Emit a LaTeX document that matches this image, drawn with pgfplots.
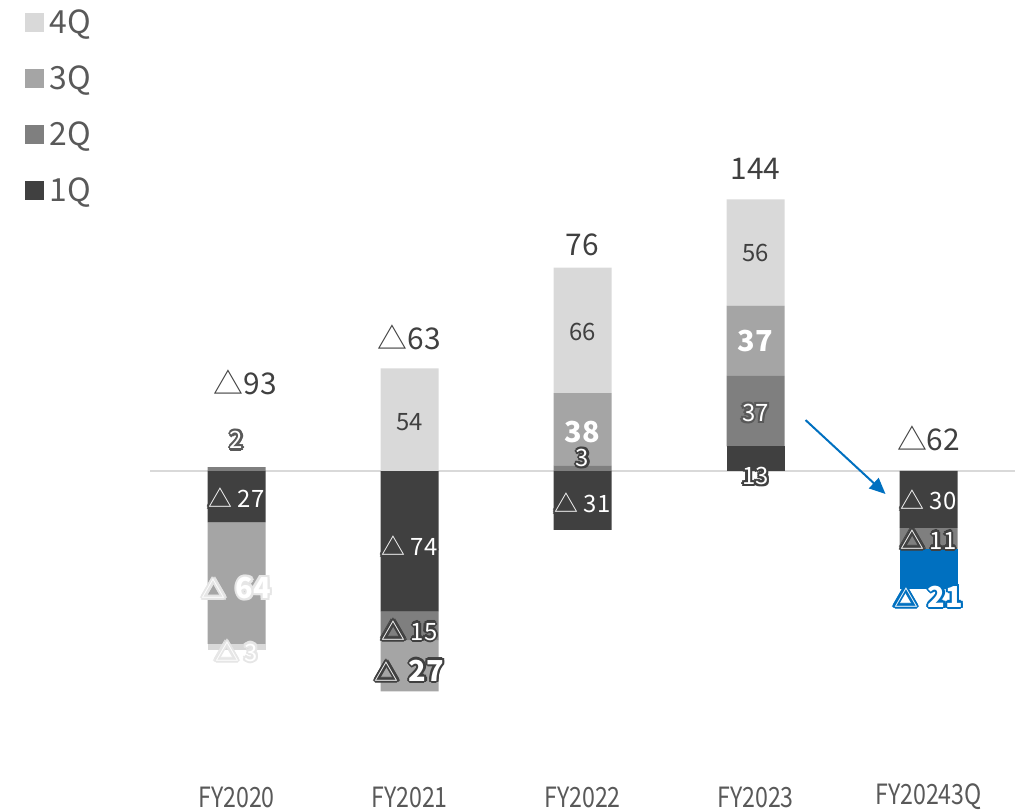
\documentclass[border=0pt]{standalone}
\usepackage{fontspec}
\setmainfont{Noto Sans CJK JP}
\usepackage{pgfplots}
\pgfplotsset{compat=1.18}
\usetikzlibrary{arrows.meta}
\definecolor{q1}{HTML}{404040}
\definecolor{q2}{HTML}{7F7F7F}
\definecolor{q3}{HTML}{A5A5A5}
\definecolor{q4}{HTML}{D9D9D9}
\definecolor{blu}{HTML}{0070C0}
\definecolor{txt}{HTML}{404040}
\definecolor{lgt}{HTML}{595959}
\definecolor{halo}{HTML}{E6E6E6}
\newcommand\lblfont{\fontsize{24}{26}\selectfont}
\newcommand\totfont{\fontsize{30}{33}\selectfont}
\newcommand\bb[1]{{\fontsize{29}{30}\selectfont\bfseries #1}}
% one glow copy: color, dx, dy, x, y, text
\newcommand\gn[6]{\node[text=#1,xshift=#2bp,yshift=#3bp,font=\lblfont] at (axis cs:#4,#5){#6};}
\newcommand\glow[4]{%
\gn{#1}{2.4}{0}{#2}{#3}{#4}\gn{#1}{1.7}{1.7}{#2}{#3}{#4}%
\gn{#1}{0}{2.4}{#2}{#3}{#4}\gn{#1}{-1.7}{1.7}{#2}{#3}{#4}%
\gn{#1}{-2.4}{0}{#2}{#3}{#4}\gn{#1}{-1.7}{-1.7}{#2}{#3}{#4}%
\gn{#1}{0}{-2.4}{#2}{#3}{#4}\gn{#1}{1.7}{-1.7}{#2}{#3}{#4}%
\gn{#1}{1.3}{0}{#2}{#3}{#4}\gn{#1}{1.1}{0.65}{#2}{#3}{#4}%
\gn{#1}{0.65}{1.1}{#2}{#3}{#4}\gn{#1}{0}{1.3}{#2}{#3}{#4}%
\gn{#1}{-0.65}{1.1}{#2}{#3}{#4}\gn{#1}{-1.1}{0.65}{#2}{#3}{#4}%
\gn{#1}{-1.3}{0}{#2}{#3}{#4}\gn{#1}{-1.1}{-0.65}{#2}{#3}{#4}%
\gn{#1}{-0.65}{-1.1}{#2}{#3}{#4}\gn{#1}{0}{-1.3}{#2}{#3}{#4}%
\gn{#1}{0.65}{-1.1}{#2}{#3}{#4}\gn{#1}{1.1}{-0.65}{#2}{#3}{#4}%
\node[text=white,font=\lblfont] at (axis cs:#2,#3){#4};}
\newcommand\plainlbl[4]{\node[text=#1,font=\lblfont] at (axis cs:#2,#3){#4};}
\newcommand\cat[2]{\node[text=lgt,font=\fontsize{25}{26}\selectfont] at (axis cs:#1,-171.6) {\scalebox{0.93}[1.12]{#2}};}
\pgfplotsset{base/.style={width=1023bp,height=812bp,scale only axis,
  xmin=-1.367,xmax=4.546,ymin=-179.5,ymax=247.9,hide axis,clip=false},
  bars/.style={ybar stacked,bar width=58bp,every axis plot/.append style={draw=none}}}
\begin{document}
\begin{tikzpicture}
\path[use as bounding box] (0,0) rectangle (1023bp,812bp);
% zero line
\begin{axis}[base]
\addplot[q4,line width=1.5bp] coordinates {(-0.5,0)(4.5,0)};
\end{axis}
% negative parts
\begin{axis}[base,bars]
\addplot[fill=q1] coordinates {(0,-27)(1,-74)(2,-31)(3,0)(4,-30)};
\addplot[fill=q2] coordinates {(0,0)(1,-15)(2,0)(3,0)(4,-11)};
\addplot[fill=q3] coordinates {(0,-64)(1,-27)(2,0)(3,0)(4,0)};
\addplot[fill=blu] coordinates {(0,0)(1,0)(2,0)(3,0)(4,-21)};
\addplot[fill=q4] coordinates {(0,-3)(1,0)(2,0)(3,0)(4,0)};
\end{axis}
% positive parts and legend
\begin{axis}[base,bars, reverse legend,
  legend image code/.code={\fill[#1] (0bp,-9.5bp) rectangle (19bp,9.5bp);},
  legend style={at={(rel axis cs:0.021,0.99)},anchor=north west,draw=none,fill=none,
    font=\fontsize{32}{34}\selectfont,text=lgt,row sep=31bp,column sep=5bp,
    nodes={inner sep=1bp,text height=22bp,text depth=1bp}},
  legend cell align=left]
\addplot[fill=q1] coordinates {(0,0)(1,0)(2,0)(3,13)(4,0)};
\addlegendentry{1Q}
\addplot[fill=q2] coordinates {(0,2)(1,0)(2,3)(3,37)(4,0)};
\addlegendentry{2Q}
\addplot[fill=q3] coordinates {(0,0)(1,0)(2,38)(3,37)(4,0)};
\addlegendentry{3Q}
\addplot[fill=blu,forget plot] coordinates {(0,0)(1,0)(2,0)(3,0)(4,0)};
\addplot[fill=q4] coordinates {(0,0)(1,54)(2,66)(3,56)(4,0)};
\addlegendentry{4Q}
\end{axis}
% labels
\begin{axis}[base]
% totals
\node[text=txt,font=\totfont] at (axis cs:0.05,46.8) {△93};
\node[text=txt,font=\totfont] at (axis cs:1,70.5) {△63};
\node[text=txt,font=\totfont] at (axis cs:2,119) {76};
\node[text=txt,font=\totfont] at (axis cs:3,159) {144};
\node[text=txt,font=\totfont] at (axis cs:4,17.4) {△62};
% FY2020
\glow{lgt}{0}{16.3}{2}
\glow{q1}{0}{-14.2}{△ 27}
\glow{halo}{0}{-61.6}{△\hspace{10bp}\bb{64}}
\glow{halo}{0}{-95}{△ 3}
% FY2021
\plainlbl{txt}{1}{25.8}{54}
\glow{q1}{1}{-39.5}{△ 74}
\glow{q1}{1}{-84}{△ 15}
\glow{q1}{1}{-105}{△\hspace{10bp}\bb{27}}
% FY2022
\plainlbl{txt}{2}{73}{66}
\plainlbl{white}{2}{20.5}{\bb{38}}
\glow{q1}{2}{6.8}{3}
\glow{q1}{2}{-16.8}{△ 31}
% FY2023
\plainlbl{txt}{3}{115}{56}
\plainlbl{white}{3}{68.4}{\bb{37}}
\glow{lgt}{3}{30.5}{37}
\glow{q1}{3}{-2.6}{13}
% FY2024 3Q
\glow{q1}{4}{-15.3}{△ 30}
\glow{q1}{4}{-36}{△ 11}
\glow{blu}{4}{-66}{△\hspace{10bp}\bb{21}}
% arrow
\draw[blu,line width=2bp,-{Triangle[length=16bp,width=14bp]}] (axis cs:3.289,26.8) -- (axis cs:3.751,-12.1);
% category labels
\cat{0}{FY2020}
\cat{1}{FY2021}
\cat{2}{FY2022}
\cat{3}{FY2023}
\cat{4}{FY20243Q}
\end{axis}
\end{tikzpicture}
\end{document}
